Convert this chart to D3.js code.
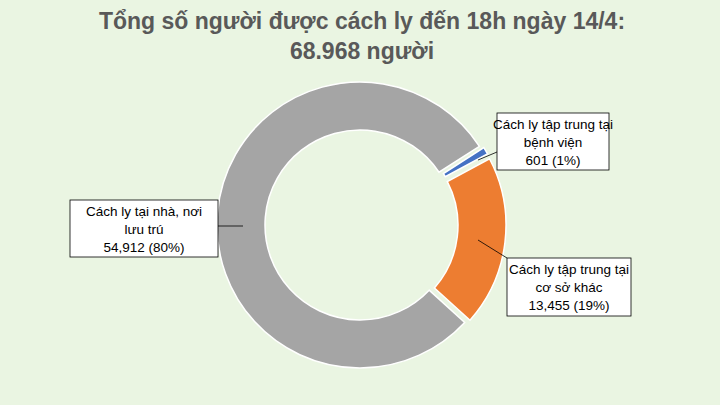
<!DOCTYPE html>
<html><head><meta charset="utf-8">
<script src="https://cdn.jsdelivr.net/npm/d3@7"></script>
<style>body{margin:0;background:#eaf5e2}</style></head>
<body><svg id="chart" width="720" height="405"></svg>
<script>
const categories = ['Cách ly tập trung tại bệnh viện', 'Cách ly tập trung tại cơ sở khác', 'Cách ly tại nhà, nơi lưu trú'];
const values = [601, 13455, 54912];
const valueLabels = ['601', '13,455', '54,912'];
const pctLabels = ['(1%)', '(19%)', '(80%)'];
const colors = ['#4472c4', '#ed7d31', '#a5a5a5'];
const titleLines = ['Tổng số người được cách ly đến 18h ngày 14/4:', '68.968 người'];

const svg = d3.select('#chart');
svg.append('rect').attr('width', 720).attr('height', 405).attr('fill', '#eaf5e2');

svg.selectAll('.title').data(titleLines).enter().append('text')
  .attr('x', 362).attr('y', (d, i) => 29 + i * 30)
  .attr('text-anchor', 'middle').attr('font-family', 'Liberation Sans, Arial')
  .attr('font-weight', 'bold').attr('font-size', 23).attr('fill', '#595959')
  .text(d => d);

const cx = 360, cy = 225, rO = 143, rI = 95;
const pie = d3.pie().sort(null).startAngle(1.0).endAngle(1.0 + 2 * Math.PI).padAngle(0.02)(values);
const arc = d3.arc().innerRadius(rI).outerRadius(rO);
const explode = [3, 3, 0];

const g = svg.append('g').attr('transform', `translate(${cx},${cy})`);
g.selectAll('path').data(pie).enter().append('path')
  .attr('d', arc)
  .attr('transform', (d, i) => {
    const a = (d.startAngle + d.endAngle) / 2;
    return `translate(${Math.sin(a) * explode[i]},${-Math.cos(a) * explode[i]})`;
  })
  .attr('fill', (d, i) => colors[i]).attr('stroke', '#fff').attr('stroke-width', 1.5);

// callouts
const boxes = [
  {x: 497, y: 113, w: 112, h: 57, lines: ['Cách ly tập trung tại', 'bệnh viện', valueLabels[0] + '  ' + pctLabels[0]], lx1: 478, ly1: 160, lx2: 497, ly2: 152},
  {x: 507, y: 258, w: 124, h: 58, lines: ['Cách ly tập trung tại', 'cơ sở khác', valueLabels[1] + '  ' + pctLabels[1]], lx1: 478, ly1: 240, lx2: 507, ly2: 258},
  {x: 70, y: 200, w: 148, h: 57, lines: ['Cách ly tại nhà, nơi', 'lưu trú', valueLabels[2] + '  ' + pctLabels[2]], lx1: 243, ly1: 226, lx2: 218, ly2: 226}
];
boxes.forEach(b => {
  svg.append('line').attr('x1', b.lx1).attr('y1', b.ly1).attr('x2', b.lx2).attr('y2', b.ly2)
    .attr('stroke', '#000').attr('stroke-width', 0.8);
  svg.append('rect').attr('x', b.x).attr('y', b.y).attr('width', b.w).attr('height', b.h)
    .attr('fill', '#fff').attr('stroke', '#000').attr('stroke-width', 0.8);
  svg.selectAll(null).data(b.lines).enter().append('text')
    .attr('x', b.x + b.w / 2).attr('y', (d, i) => b.y + 16 + i * 18)
    .attr('text-anchor', 'middle').attr('font-family', 'Liberation Sans, Arial')
    .attr('font-size', 13.5).attr('fill', '#000').text(d => d);
});
</script></body></html>
